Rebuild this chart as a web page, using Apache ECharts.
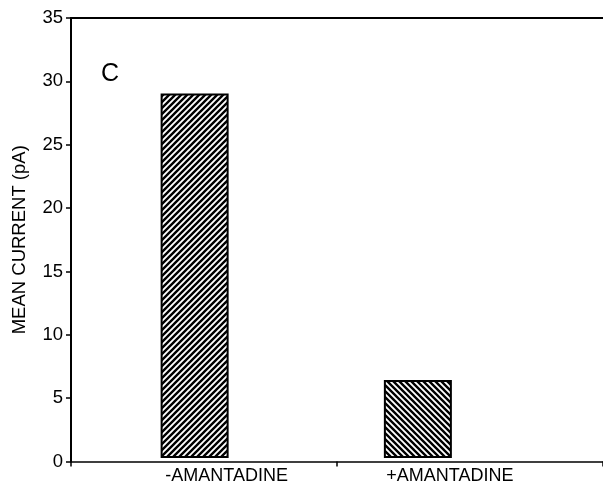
<!DOCTYPE html>
<html>
<head>
<meta charset="utf-8">
<script src="https://cdn.jsdelivr.net/npm/echarts@6/dist/echarts.min.js"></script>
<style>html,body{margin:0;padding:0;background:#fff}#c{width:603px;height:485px}</style>
</head>
<body>
<div id="c"></div>
<script>
const categories = ['-AMANTADINE', '+AMANTADINE'];
const meanCurrent = [29, 6.2];
const yMin = 0, yMax = 35, yInterval = 5;
const yAxisName = 'MEAN CURRENT (pA)';
const panelLabel = 'C';

function hatch(dir) {
  const s = 6;
  const c = document.createElement('canvas');
  c.width = s; c.height = s;
  const g = c.getContext('2d');
  g.fillStyle = '#fff'; g.fillRect(0, 0, s, s);
  g.strokeStyle = '#000'; g.lineWidth = 2.4;
  g.beginPath();
  for (let k = -1; k <= 1; k++) {
    if (dir === '/') { g.moveTo(k * s - 1, s + 1); g.lineTo(k * s + s + 1, -1); }
    else { g.moveTo(k * s - 1, -1); g.lineTo(k * s + s + 1, s + 1); }
  }
  g.stroke();
  return c;
}
const patterns = [hatch('/'), hatch('\\')];

const font = 'Liberation Sans, Arial, sans-serif';
const chart = echarts.init(document.getElementById('c'), null, {renderer: 'canvas'});
chart.setOption({
  animation: false,
  backgroundColor: '#fff',
  title: {text: panelLabel, left: 96, top: 57, textStyle: {fontFamily: font, fontSize: 25, fontWeight: 'normal', color: '#000'}},
  grid: [
    {left: 71, right: -6, top: 18, bottom: 23.5},
    {left: 83, right: 73.5, top: 18, bottom: 23.5}
  ],
  xAxis: [
    {type: 'category', gridIndex: 0, data: categories, position: 'bottom',
      axisLine: {lineStyle: {color: '#000', width: 1.5}},
      axisTick: {show: true, length: 5, lineStyle: {color: '#000', width: 1.5}},
      axisLabel: {show: false}},
    {type: 'category', gridIndex: 0, data: categories, position: 'top',
      axisLine: {lineStyle: {color: '#000', width: 2}},
      axisTick: {show: false}, axisLabel: {show: false}},
    {type: 'category', gridIndex: 1, data: categories, position: 'bottom',
      axisLine: {show: false}, axisTick: {show: false},
      axisLabel: {color: '#000', fontFamily: font, fontSize: 18, margin: 9, padding: [0, 0, 0, 64]}}
  ],
  yAxis: [
    {type: 'value', gridIndex: 0, min: yMin, max: yMax, interval: yInterval,
      name: yAxisName, nameLocation: 'middle', nameGap: 42, nameRotate: 90,
      nameTextStyle: {color: '#000', fontFamily: font, fontSize: 18.5},
      axisLine: {show: true, lineStyle: {color: '#000', width: 2}},
      axisTick: {show: true, length: 5, lineStyle: {color: '#000', width: 1.5}},
      axisLabel: {color: '#000', fontFamily: font, fontSize: 18.5, margin: 8},
      splitLine: {show: false}},
    {type: 'value', gridIndex: 1, min: yMin, max: yMax, interval: yInterval, show: false, splitLine: {show: false}}
  ],
  series: [{
    type: 'bar', xAxisIndex: 2, yAxisIndex: 1, barWidth: 68,
    data: meanCurrent.map((v, i) => ({value: v, itemStyle: {color: {image: patterns[i], repeat: 'repeat'}}})),
    itemStyle: {borderColor: '#000', borderWidth: 2}
  }]
});
</script>
</body>
</html>
